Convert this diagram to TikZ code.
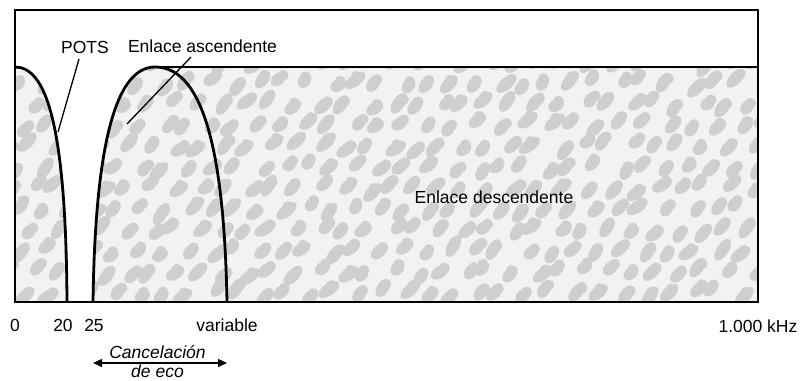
\documentclass[tikz,border=0pt]{standalone}
\usepackage{fontspec}
\setmainfont{Liberation Sans}
\usetikzlibrary{arrows.meta}
\begin{document}
\begin{tikzpicture}[x=1pt,y=-1pt,
  font=\fontsize{17.5}{20}\selectfont,
  curve/.style={line width=2.8pt},
  frame/.style={line width=2.4pt},
  pointer/.style={line width=1.3pt},
  lbl/.style={inner sep=0pt},
  axlbl/.style={inner sep=0pt, anchor=base},
  ital/.style={inner sep=0pt, anchor=base, font=\fontsize{17.5}{20}\selectfont\itshape},
  blob/.style={fill=gray!38},
  base/.style={fill=gray!10}]
\useasboundingbox (0,0) rectangle (802,380);
\def\shadepath{(15,67) .. controls (45,67) and (66,120) .. (67,302) -- (15,302) -- cycle
  (93,302) .. controls (95,160) and (112,67) .. (155,67) -- (758,67) -- (758,302) -- cycle}
% shaded areas
\fill[base] \shadepath;
\begin{scope}
  \clip \shadepath;
  \pgfmathsetseed{11}
  \foreach \i in {0,...,32} {
    \foreach \j in {0,...,11} {
      \pgfmathsetmacro\xx{8+\i*24+rand*7+mod(\j,2)*12}
      \pgfmathsetmacro\yy{62+\j*21+rand*5}
      \pgfmathsetmacro\rr{45+rand*15}
      \pgfmathsetmacro\ra{10+rand*2.5}
      \pgfmathsetmacro\dx{3+rand*2}
      \fill[blob] (\xx,\yy) ellipse [x radius=\ra pt, y radius=6pt, rotate=\rr];
      \fill[blob] (\xx+\dx,\yy-4) circle [radius=5.5pt];
    }
  }
\end{scope}
% frame
\draw[frame] (15,10) rectangle (758,302);
% curves
\draw[curve] (15,67) .. controls (45,67) and (66,120) .. (67,302);
\draw[curve] (93,302) .. controls (95,160) and (112,67) .. (155,67)
  .. controls (200,67) and (224,140) .. (227,302);
\draw[curve] (155,67) -- (758,67);
% labels
\node[lbl] (pots) at (85,47.5) {POTS};
\node[lbl] (up) at (202.5,46) {Enlace ascendente};
\node[lbl] (down) at (494,197) {Enlace descendente};
\coordinate (potsA) at (79,59);
\coordinate (potsB) at (58,132);
\coordinate (upA) at (191,57);
\coordinate (upB) at (127,124);
\draw[pointer] (potsA) -- (potsB);
\draw[pointer] (upA) -- (upB);
% axis labels
\node[axlbl] (l0) at (15,331) {0};
\node[axlbl] (l20) at (63,331) {20};
\node[axlbl] (l25) at (94,331) {25};
\node[axlbl] (lvar) at (227,331) {variable};
\node[axlbl] (lk) at (758,332) {1.000 kHz};
% echo cancellation
\node[ital] (canc) at (157.5,358) {Cancelación};
\node[ital] (eco) at (157.5,377) {de eco};
\coordinate (ecoL) at (93,363);
\coordinate (ecoR) at (227,363);
\draw[line width=1.3pt, {Triangle[length=9pt,width=8pt]}-{Triangle[length=9pt,width=8pt]}] (ecoL) -- (ecoR);
\end{tikzpicture}
\end{document}
